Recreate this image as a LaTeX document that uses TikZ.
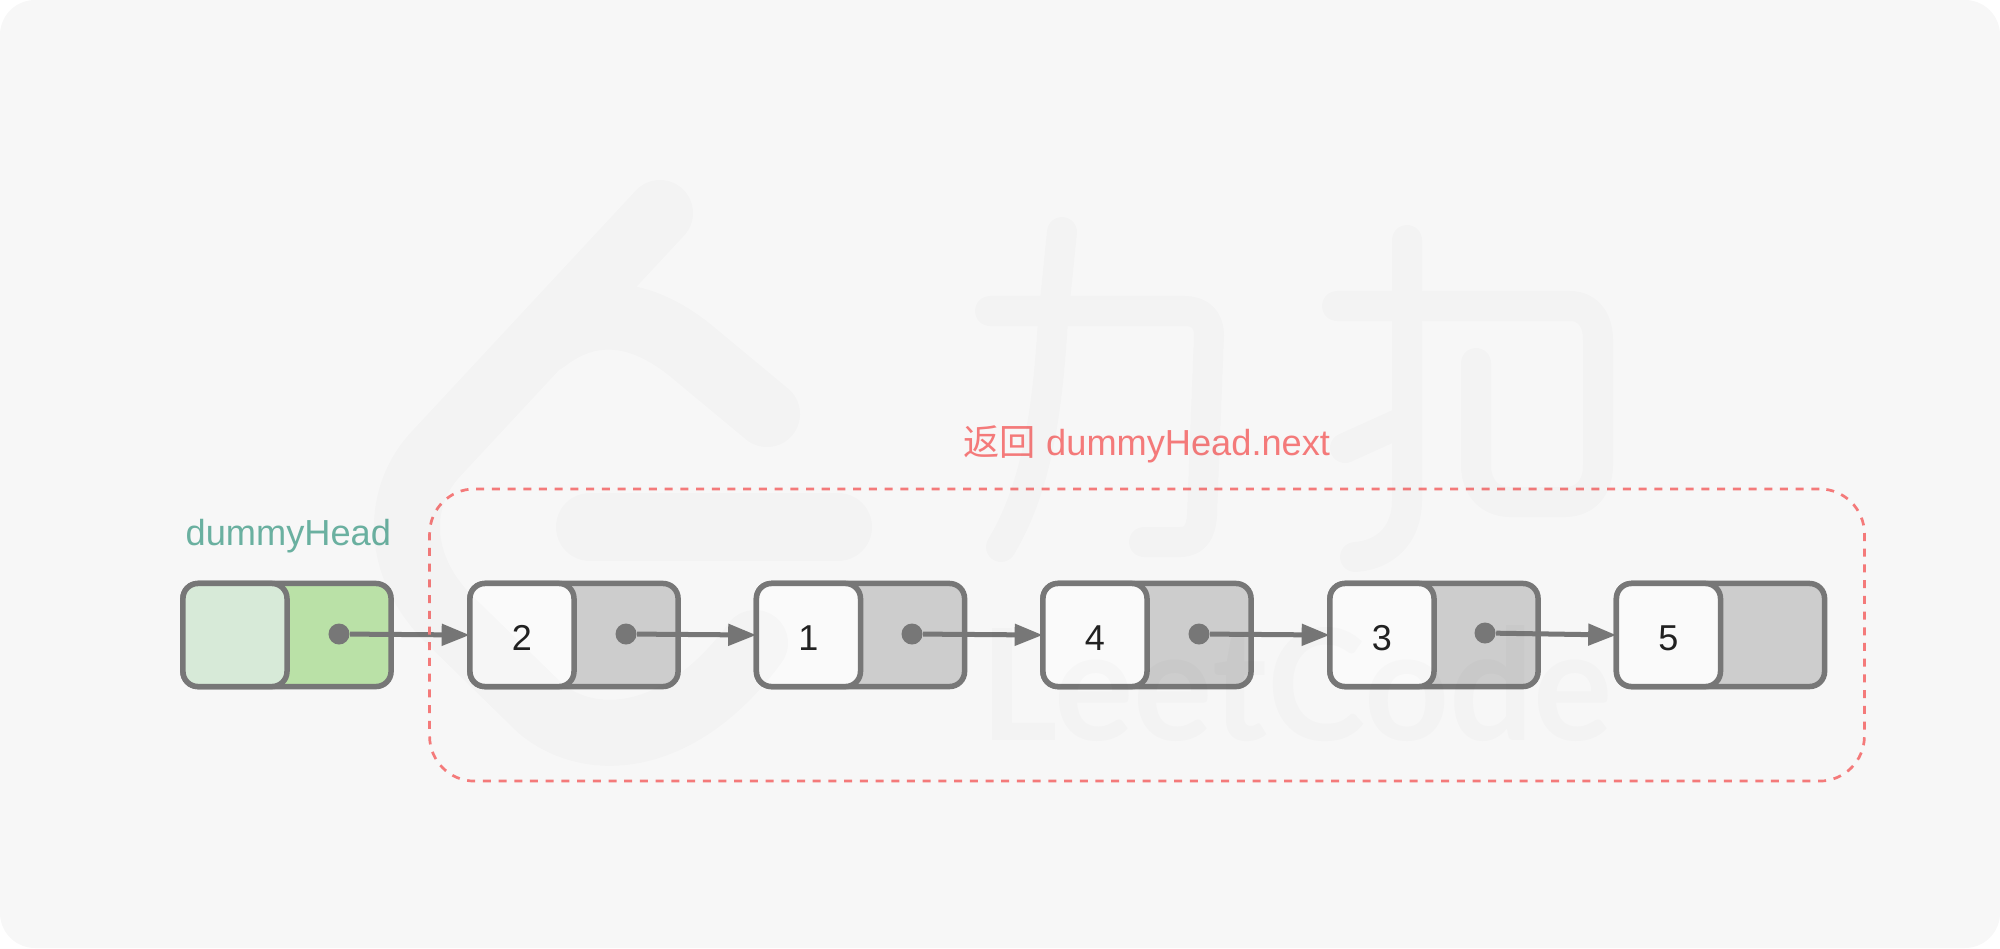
\documentclass[tikz,border=0pt]{standalone}
\usepackage{fontspec}
\setmainfont{Liberation Sans}
\newfontfamily\cjk{Noto Sans CJK SC}
\newfontfamily\markfont{Lato}
\usetikzlibrary{arrows.meta}
\definecolor{pagebg}{HTML}{F7F7F7}
\definecolor{cellline}{HTML}{777777}
\definecolor{cellgray}{HTML}{CDCDCD}
\definecolor{cellgreen}{HTML}{BAE1A7}
\definecolor{valgreen}{HTML}{D7EAD8}
\definecolor{headtext}{HTML}{6AB0A0}
\definecolor{retred}{HTML}{F47A7A}
\tikzset{
  listcell/.style={draw=cellline, line width=0.055cm, rounded corners=0.15cm, minimum width=2.08cm, minimum height=1.03cm, inner sep=0},
  valcell/.style={listcell, fill=white!98!black, minimum width=1.04cm, text=black!87, font=\fontsize{10.24pt}{12pt}\selectfont, text height=8.54pt, text depth=0pt},
  ptrdot/.style={circle, fill=cellline, minimum size=0.21cm, inner sep=0},
  nextarrow/.style={draw=cellline, line width=0.05cm, shorten >=-0.025cm, -{Triangle[length=0.28cm, width=0.21cm]}},
  caption/.style={anchor=base west, inner sep=0, font=\fontsize{10.3pt}{12pt}\selectfont},
  inkmark/.style={draw=black, draw opacity=0.016, line cap=round, line join=round}
}
\begin{document}
\begin{tikzpicture}[x=0.01cm, y=-0.01cm]
\useasboundingbox (0,0) rectangle (2000,948);
\fill[pagebg, rounded corners=0.35cm] (0,0) rectangle (2000,948);

% Dummy head
\node[listcell, fill=cellgreen] (cell0) at (287,635) {};
\node[valcell, fill=valgreen, anchor=west] (val0) at (cell0.west) {};
\node[ptrdot] (ptr0) at (339,634) {};
\node[caption, text=headtext] (head) at (185,545) {dummyHead};

% List cells
\node[listcell, fill=cellgray] (cell2) at (574,635) {};
\node[valcell, anchor=west] (val2) at (cell2.west) {2};
\node[ptrdot] (ptr2) at (626,634) {};
\node[listcell, fill=cellgray] (cell1) at (860.5,635) {};
\node[valcell, anchor=west] (val1) at (cell1.west) {1};
\node[ptrdot] (ptr1) at (912,634) {};
\node[listcell, fill=cellgray] (cell4) at (1147,635) {};
\node[valcell, anchor=west] (val4) at (cell4.west) {4};
\node[ptrdot] (ptr4) at (1199,634) {};
\node[listcell, fill=cellgray] (cell3) at (1434,635) {};
\node[valcell, anchor=west] (val3) at (cell3.west) {3};
\node[ptrdot] (ptr3) at (1485,633) {};
\node[listcell, fill=cellgray] (cell5) at (1720.5,635) {};
\node[valcell, anchor=west] (val5) at (cell5.west) {5};

% Next pointers
\draw[nextarrow] (ptr0) -- (val2.west);
\draw[nextarrow] (ptr2) -- (val1.west);
\draw[nextarrow] (ptr1) -- (val4.west);
\draw[nextarrow] (ptr4) -- (val3.west);
\draw[nextarrow] (ptr3) -- (val5.west);

% Returned part
\node[draw=retred, line width=0.027cm, dash pattern=on 0.08cm off 0.077cm, rounded corners=0.45cm, minimum width=14.34cm, minimum height=2.92cm, inner sep=0] (ret) at (1147,635) {};
\node[caption, text=retred] (retlabel) at (963,455) {{\cjk 返回} dummyHead.next};

% Watermark logo
\draw[inkmark, line width=0.66cm] (660,213) -- (434,456) .. controls (395,500) and (395,570) .. (455,625) -- (540,708) .. controls (590,750) and (680,745) .. (755,643)
  (545,340) .. controls (590,305) and (640,310) .. (690,350) -- (767,414);
\draw[inkmark, line width=0.68cm] (590,527) -- (838,527);

% Watermark characters
\draw[inkmark, line width=0.30cm] (990,311) -- (1185,311) .. controls (1200,311) and (1209,320) .. (1209,335) -- (1202,515) .. controls (1201,532) and (1195,542) .. (1180,542) -- (1144,542)
  (1062,232) -- (1053,320) .. controls (1047,420) and (1035,490) .. (1001,547);
\draw[inkmark, line width=0.30cm] (1337,306) -- (1570,306) .. controls (1588,306) and (1598,320) .. (1598,340) -- (1598,465) .. controls (1598,488) and (1585,502) .. (1565,502) -- (1510,502) .. controls (1490,502) and (1476,488) .. (1476,465) -- (1476,363)
  (1407,240) -- (1407,500) .. controls (1407,535) and (1385,555) .. (1355,557)
  (1407,420) -- (1345,448);
\node[anchor=base west, inner sep=0, text=black, text opacity=0.016, font=\markfont\bfseries\fontsize{44pt}{48pt}\selectfont, xscale=0.96] (markword) at (980,740) {LeetCode};
\end{tikzpicture}
\end{document}
